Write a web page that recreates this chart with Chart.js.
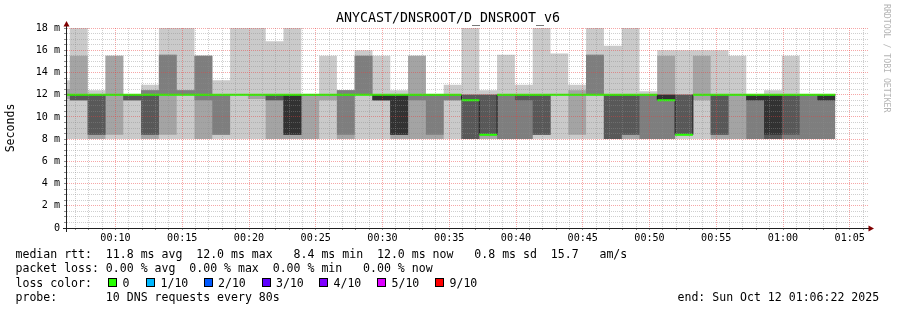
<!DOCTYPE html>
<html lang="en">
<head>
<meta charset="utf-8">
<title>ANYCAST/DNSROOT/D_DNSROOT_v6</title>
<script src="https://cdn.jsdelivr.net/npm/chart.js@4.4.1/dist/chart.umd.min.js"></script>
<style>
  html, body { margin: 0; padding: 0; background: #fff; }
  #graph { position: relative; width: 897px; height: 310px; overflow: hidden; font-family: "DejaVu Sans Mono", monospace; color: #000; }
  #graph canvas { position: absolute; left: 0; top: 0; }
  .title { position: absolute; left: 0; width: 896px; top: 10px; text-align: center; font-size: 13.3px; line-height: 16px; }
  .line { position: absolute; left: 15.5px; white-space: pre; font-size: 11.55px; line-height: 14px; }
  .swatch { position: absolute; top: 278px; width: 7px; height: 7px; border: 1px solid #000; }
  .watermark { position: absolute; left: 882px; top: 4px; writing-mode: vertical-rl; font-size: 8.2px; line-height: 10px; color: #b4b4b4; white-space: pre; }
</style>
</head>
<body>
<div id="graph">
  <canvas id="chart" width="897" height="310"></canvas>
  <div class="title">ANYCAST/DNSROOT/D_DNSROOT_v6</div>
  <div class="watermark">RRDTOOL / TOBI OETIKER</div>
  <div class="line" style="top:246.5px">median rtt:  11.8 ms avg  12.0 ms max   8.4 ms min  12.0 ms now   0.8 ms sd  15.7   am/s</div>
  <div class="line" style="top:261px">packet loss: 0.00 % avg  0.00 % max  0.00 % min   0.00 % now</div>
  <div class="line" style="top:276px">loss color:</div>
  <div class="line" style="top:289.5px">probe:       10 DNS requests every 80s</div>
  <div class="line" style="top:289.5px; left:677.5px">end: Sun Oct 12 01:06:22 2025</div>
</div>
<script>
// step boundaries (80s steps), one more than the number of values
const stepTimes = [
  "00:05:15", "00:06:35", "00:07:55", "00:09:15", "00:10:35", "00:11:55", "00:13:15", "00:14:35", "00:15:55",
  "00:17:15", "00:18:35", "00:19:55", "00:21:15", "00:22:35", "00:23:55", "00:25:15", "00:26:35", "00:27:55",
  "00:29:15", "00:30:35", "00:31:55", "00:33:15", "00:34:35", "00:35:55", "00:37:15", "00:38:35", "00:39:55",
  "00:41:15", "00:42:35", "00:43:55", "00:45:15", "00:46:35", "00:47:55", "00:49:15", "00:50:35", "00:51:55",
  "00:53:15", "00:54:35", "00:55:55", "00:57:15", "00:58:35", "00:59:55", "01:01:15", "01:02:35", "01:03:55"
];
const viewStart = "00:06:22";
const viewEnd = "01:06:22";

// sorted pings per step, in ms (ping1 = fastest)
const ping1 = [
  8.0, 8.0, 8.0, 8.0, 8.0, 8.0, 8.0, 8.0, 8.0, 8.0, 8.0,
  8.0, 8.0, 8.0, 8.0, 8.0, 8.0, 8.0, 8.0, 8.0, 8.0, 8.0,
  8.0, 8.0, 8.0, 8.0, 8.0, 8.0, 8.0, 8.0, 8.0, 8.0, 8.0,
  8.0, 8.0, 8.0, 8.0, 8.0, 8.0, 8.0, 8.0, 8.0, 8.0, 8.0
];
const ping2 = [
  11.6, 11.5, 8.0, 8.4, 11.5, 8.0, 8.4, 12, 8.0, 8.4, 12,
  11.6, 8.0, 8.0, 8.0, 11.5, 8.0, 12, 11.5, 8.0, 8.0, 8.0,
  11.5, 8.0, 8.0, 8.0, 8.0, 8.4, 12, 8.4, 12, 8.0, 8.0,
  8.0, 8.0, 8.4, 11.5, 8.0, 8.0, 8.0, 8.0, 8.0, 8.0, 8.0
];
const ping3 = [
  12, 11.5, 8.4, 12, 11.5, 8.4, 12, 12, 11.5, 8.4, 12,
  12, 11.5, 8.4, 12, 12, 8.4, 12, 11.5, 8.4, 11.5, 8.4,
  11.5, 8.0, 8.4, 8.0, 8.0, 8.4, 12, 12, 12, 8.0, 8.4,
  8.0, 8.0, 8.4, 12, 8.4, 12, 8.0, 8.0, 8.0, 8.0, 8.0
];
const ping4 = [
  12, 11.5, 8.4, 12, 11.5, 8.4, 12, 12, 12, 12, 12,
  12, 11.5, 8.4, 12, 12, 12, 12, 11.5, 8.4, 12, 12,
  12, 8.0, 8.4, 12, 11.5, 8.4, 12, 12, 12, 8.0, 8.4,
  12, 11.5, 8.4, 12, 8.4, 12, 11.5, 8.0, 8.4, 12, 11.5
];
const ping5 = [
  12, 12, 12, 12, 12, 12, 12, 12, 12, 12, 12,
  12, 12, 8.4, 12, 12, 12, 12, 11.5, 8.4, 12, 12,
  12, 11.5, 8.4, 12, 12, 12, 12, 12, 12, 12, 12,
  12, 11.5, 8.4, 12, 12, 12, 11.5, 8.4, 12, 12, 11.5
];
const ping6 = [
  12, 12, 12, 12, 12, 12, 12, 12, 12, 12, 12,
  12, 12, 12, 12, 12, 12, 12, 12, 12, 12, 12,
  12, 11.5, 8.4, 12, 12, 12, 12, 12, 12, 12, 12,
  12, 12, 8.4, 12, 12, 12, 12, 12, 12, 12, 12
];
const ping7 = [
  12, 12, 12, 12, 12, 12, 12, 12, 12, 12, 12,
  12, 12, 12, 12, 12, 12, 12, 12, 12, 12, 12,
  12, 12, 12, 12, 12, 12, 12, 12, 12, 12, 12,
  12, 12, 12, 12, 12, 12, 12, 12, 12, 12, 12
];
const ping8 = [
  12, 12, 12, 12, 12, 12.4, 15.6, 12.4, 15.5, 12, 12,
  12, 12, 12, 12, 12, 12.4, 15.5, 12, 12, 12, 12,
  12, 12, 12, 12, 12, 12, 12, 12, 15.6, 12, 12,
  12, 12, 12, 12, 12, 12, 12, 12, 12, 12, 12
];
const ping9 = [
  12.5, 15.5, 12, 15.5, 12, 12.4, 15.6, 12.4, 15.5, 12, 12,
  12, 12, 12, 12, 12, 12.4, 15.5, 12, 12, 15.5, 12,
  12, 12, 12, 12, 12, 12, 12, 12.4, 15.6, 12, 12,
  12, 15.5, 12, 15.5, 12, 12, 12, 12, 12, 12, 12
];
const ping10 = [
  13.3, 18, 12.4, 15.5, 12, 12.9, 18, 18, 15.5, 13.3, 18,
  18, 16.8, 18, 12, 15.5, 12.4, 16.0, 15.5, 12.4, 15.5, 12,
  12.9, 18, 12.4, 15.6, 12.9, 18, 15.7, 12.9, 18, 16.4, 18,
  12.3, 16.0, 16.0, 16.0, 16.0, 15.5, 12, 12.4, 15.5, 12, 12
];
const median = [
  12, 12, 12, 12, 12, 12, 12, 12, 12, 12, 12,
  12, 12, 12, 12, 12, 12, 12, 12, 12, 12, 12,
  12, 11.5, 8.4, 12, 12, 12, 12, 12, 12, 12, 12,
  12, 11.5, 8.4, 12, 12, 12, 12, 12, 12, 12, 12
];

const xTickLabels = ["00:10", "00:15", "00:20", "00:25", "00:30", "00:35", "00:40", "00:45", "00:50", "00:55", "01:00", "01:05"];
const yMajor = [0, 2, 4, 6, 8, 10, 12, 14, 16, 18];
const yTickLabels = ["0", "2 m", "4 m", "6 m", "8 m", "10 m", "12 m", "14 m", "16 m", "18 m"];

const lossLabels = ["0", "1/10", "2/10", "3/10", "4/10", "5/10", "9/10"];
const lossColors = ["#26ff00", "#00b8ff", "#0059ff", "#5e00ff", "#7e00ff", "#dd00ff", "#ff0000"];

// outer pair lightest, inner pair darkest
const smokeGrays = ["#cacaca", "#a4a4a4", "#7e7e7e", "#585858", "#323232"];

const toSec = (s) => {
  const p = s.split(":").map(Number);
  return p[0] * 3600 + p[1] * 60 + (p[2] || 0);
};

const bounds = stepTimes.map(toSec);
const xMin = toSec(viewStart);
const xMax = toSec(viewEnd);
const xMajor = xTickLabels.map(toSec);

const xGrid = [];
for (let t = Math.ceil(xMin / 60) * 60; t <= xMax; t += 60) xGrid.push(t);
const yGrid = [];
for (let v = 0; v <= 18; v += 0.5) yGrid.push(v);

// value held over each step: point at step start, last value repeated at the end
const stepPoints = (vals) => {
  const pts = vals.map((v, i) => ({ x: bounds[i], y: v }));
  pts.push({ x: bounds[vals.length], y: vals[vals.length - 1] });
  return pts;
};

// median band drawn per step, no vertical joins
const medianSegments = (vals) => {
  const pts = [];
  vals.forEach((v, i) => {
    pts.push({ x: bounds[i], y: v }, { x: bounds[i + 1], y: v }, { x: bounds[i + 1], y: null });
  });
  return pts;
};

const pings = [ping1, ping2, ping3, ping4, ping5, ping6, ping7, ping8, ping9, ping10];
const datasets = [];
smokeGrays.forEach((gray, k) => {
  const lowIndex = datasets.length;
  datasets.push({
    data: stepPoints(pings[k]),
    stepped: "before",
    borderWidth: 0,
    borderColor: "transparent",
    fill: false,
    order: 20 - 2 * k,
  });
  datasets.push({
    data: stepPoints(pings[9 - k]),
    stepped: "before",
    borderWidth: 0,
    borderColor: "transparent",
    backgroundColor: gray,
    fill: { target: lowIndex, above: gray, below: gray },
    order: 19 - 2 * k,
  });
});
datasets.push({
  data: stepPoints(median),
  stepped: "before",
  borderWidth: 1,
  borderColor: "#202020",
  fill: false,
  order: 2,
});
datasets.push({
  data: medianSegments(median),
  borderWidth: 2,
  borderColor: lossColors[0],
  fill: false,
  spanGaps: false,
  order: 1,
});

const isMajor = (list) => (ctx) => ctx.tick && list.includes(ctx.tick.value);
const gridColor = (list) => (ctx) => (isMajor(list)(ctx) ? "rgba(235,60,60,0.45)" : "rgba(140,140,140,0.42)");

// axis lines with the little arrow heads
const axisArrows = {
  id: "axisArrows",
  afterDraw(chart) {
    const { ctx, chartArea: a } = chart;
    const x0 = a.left - 0.5;
    const y0 = a.bottom + 0.5;
    ctx.save();
    ctx.strokeStyle = "#202020";
    ctx.lineWidth = 1;
    ctx.beginPath();
    ctx.moveTo(a.left - 4, y0);
    ctx.lineTo(a.right + 1, y0);
    ctx.moveTo(x0, a.bottom + 4);
    ctx.lineTo(x0, a.top - 2);
    ctx.stroke();
    ctx.fillStyle = "#800000";
    ctx.beginPath();
    ctx.moveTo(a.right + 0.5, y0 - 3);
    ctx.lineTo(a.right + 6, y0);
    ctx.lineTo(a.right + 0.5, y0 + 3);
    ctx.closePath();
    ctx.fill();
    ctx.beginPath();
    ctx.moveTo(x0 - 3, a.top - 1.5);
    ctx.lineTo(x0, a.top - 7);
    ctx.lineTo(x0 + 3, a.top - 1.5);
    ctx.closePath();
    ctx.fill();
    ctx.restore();
  },
};

const mono = "'DejaVu Sans Mono', monospace";

new Chart(document.getElementById("chart"), {
  type: "line",
  data: { datasets: datasets },
  plugins: [axisArrows],
  options: {
    responsive: false,
    animation: false,
    devicePixelRatio: 1,
    layout: { padding: { top: 28, right: 29, bottom: 0, left: 0 } },
    elements: { point: { radius: 0 }, line: { tension: 0 } },
    plugins: {
      legend: { display: false },
      tooltip: { enabled: false },
    },
    scales: {
      x: {
        type: "linear",
        min: xMin,
        max: xMax,
        afterFit: (scale) => { scale.height = 82; },
        afterBuildTicks: (scale) => { scale.ticks = xGrid.map((v) => ({ value: v })); },
        ticks: {
          autoSkip: false,
          maxRotation: 0,
          padding: 2,
          color: "#000",
          font: { family: mono, size: 10.1 },
          callback: (v) => {
            const i = xMajor.indexOf(v);
            return i >= 0 ? xTickLabels[i] : "";
          },
        },
        grid: {
          z: 1,
          color: gridColor(xMajor),
          tickLength: 2,
          tickColor: "rgba(0,0,0,0.45)",
        },
        border: { display: false, dash: [1, 1] },
      },
      y: {
        min: 0,
        max: 18,
        afterFit: (scale) => { scale.width = 67; },
        afterBuildTicks: (scale) => { scale.ticks = yGrid.map((v) => ({ value: v })); },
        ticks: {
          autoSkip: false,
          padding: 4,
          color: "#000",
          font: { family: mono, size: 10.1 },
          callback: (v) => {
            const i = yMajor.indexOf(v);
            return i >= 0 ? yTickLabels[i] : "";
          },
        },
        grid: {
          z: 1,
          color: gridColor(yMajor),
          tickLength: 3,
          tickColor: "rgba(0,0,0,0.45)",
        },
        border: { display: false, dash: [1, 1] },
        title: {
          display: true,
          text: "Seconds",
          color: "#000",
          font: { family: mono, size: 11.55 },
          padding: { top: 4, bottom: 0 },
        },
      },
    },
  },
});

// loss colour legend
const graph = document.getElementById("graph");
const swatchX = [108, 146, 203.5, 261.5, 319, 377, 435];
lossLabels.forEach((label, i) => {
  const box = document.createElement("div");
  box.className = "swatch";
  box.style.left = swatchX[i] + "px";
  box.style.background = lossColors[i];
  graph.appendChild(box);
  const txt = document.createElement("div");
  txt.className = "line";
  txt.style.top = "276px";
  txt.style.left = (swatchX[i] + 14.5) + "px";
  txt.textContent = label;
  graph.appendChild(txt);
});
</script>
</body>
</html>
